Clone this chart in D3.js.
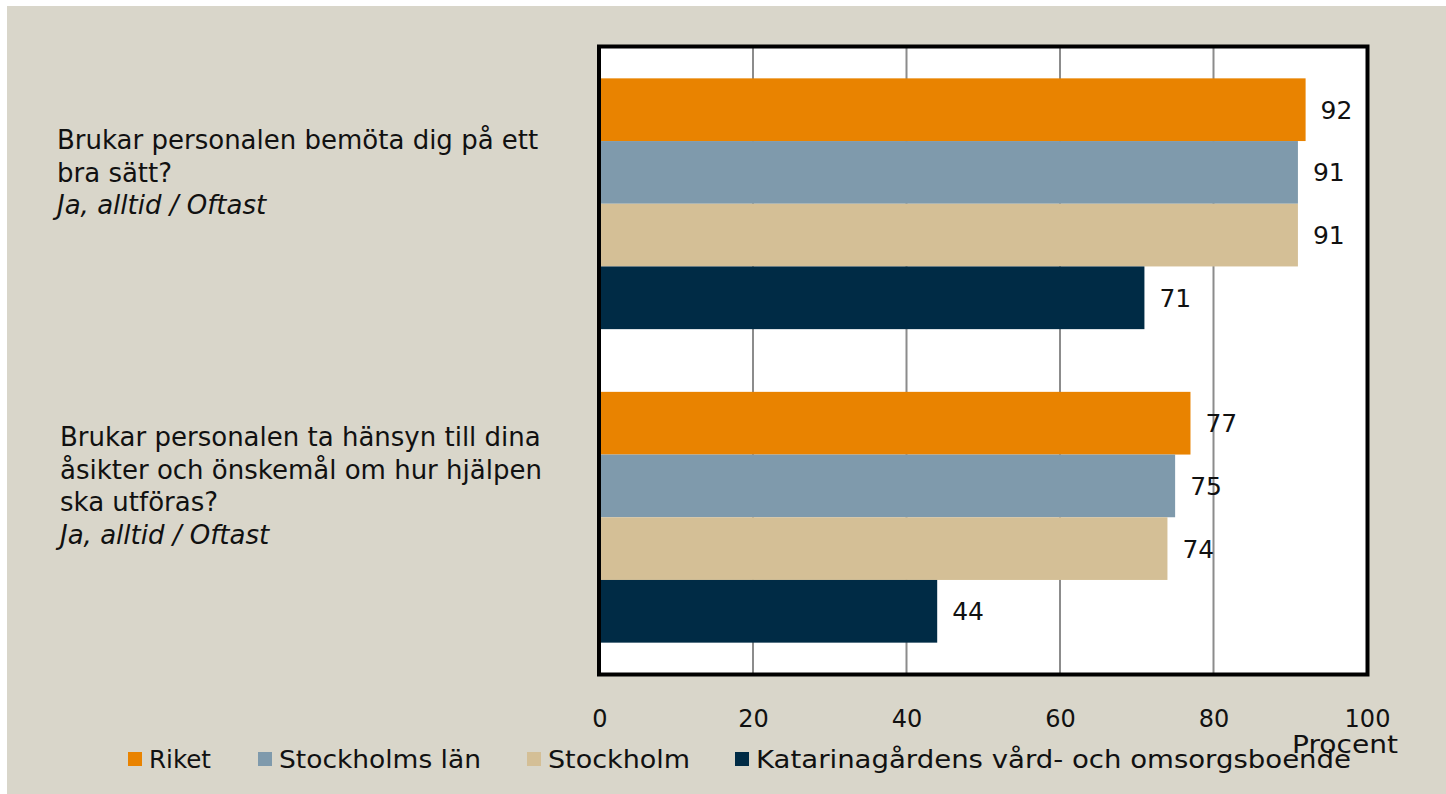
<!DOCTYPE html>
<html>
<head>
<meta charset="utf-8">
<script src="https://cdn.jsdelivr.net/npm/d3@7"></script>
<style>
  body { margin: 0; background: #fff; }
  svg { display: block; }
  text { font-family: "DejaVu Sans", sans-serif; fill: #111; }
</style>
</head>
<body>
<svg id="chart" width="1446" height="794"></svg>
<script>
// questions (category labels), one line per entry
const questions = [
    ["Brukar personalen bemöta dig på ett", "bra sätt?"],
    ["Brukar personalen ta hänsyn till dina", "åsikter och önskemål om hur hjälpen", "ska utföras?"]
];
const answerNote = "Ja, alltid / Oftast";
const seriesNames = ["Riket", "Stockholms län", "Stockholm", "Katarinagårdens vård- och omsorgsboende"];
const seriesColors = ["#e98300", "#7f9aac", "#d4bf96", "#002b45"];
// values[question][series]
const values = [
    [92, 91, 91, 71],
    [77, 75, 74, 44]
];
const xTicks = [0, 20, 40, 60, 80, 100];
const axisTitle = "Procent";

const svg = d3.select("#chart");
const W = 1446, H = 794;

// beige panel
svg.append("rect")
    .attr("x", 7).attr("y", 6)
    .attr("width", W - 7).attr("height", H - 6)
    .attr("fill", "#d9d6ca");

// plot area
const plot = {left: 599.5, right: 1367, top: 47, bottom: 674};

const x = d3.scaleLinear().domain([0, 100]).range([plot.left, plot.right]);
const y0 = d3.scaleBand().domain(d3.range(questions.length))
    .range([plot.top, plot.bottom]).paddingInner(0).paddingOuter(0);
const y1 = d3.scaleBand().domain(d3.range(seriesNames.length))
    .range([0, y0.bandwidth()]).paddingOuter(0.5).paddingInner(0);

svg.append("rect")
    .attr("x", plot.left).attr("y", plot.top)
    .attr("width", plot.right - plot.left).attr("height", plot.bottom - plot.top)
    .attr("fill", "#fff");

// gridlines
svg.append("g")
    .selectAll("line")
    .data(xTicks.slice(1, -1))
    .join("line")
    .attr("x1", (d) => x(d)).attr("x2", (d) => x(d))
    .attr("y1", plot.top).attr("y2", plot.bottom)
    .attr("stroke", "#8c8c8c")
    .attr("stroke-width", 2);

// bars
const groups = svg.append("g")
    .selectAll("g")
    .data(values)
    .join("g")
    .attr("transform", (d, i) => `translate(0,${y0(i)})`);

groups.selectAll("rect")
    .data((d) => d)
    .join("rect")
    .attr("x", x(0))
    .attr("y", (d, j) => y1(j))
    .attr("width", (d) => x(d) - x(0))
    .attr("height", y1.bandwidth())
    .attr("fill", (d, j) => seriesColors[j]);

groups.selectAll("text")
    .data((d) => d)
    .join("text")
    .attr("x", (d) => x(d) + 15)
    .attr("y", (d, j) => y1(j) + y1.bandwidth() / 2)
    .attr("dy", "0.36em")
    .attr("font-size", 25)
    .text((d) => d);

// frame
svg.append("rect")
    .attr("x", plot.left - 0.5).attr("y", plot.top - 0.5)
    .attr("width", plot.right - plot.left + 1).attr("height", plot.bottom - plot.top + 1)
    .attr("fill", "none")
    .attr("stroke", "#000")
    .attr("stroke-width", 4);

// x axis labels
const xAxis = svg.append("g")
    .attr("transform", `translate(0,${plot.bottom + 2})`)
    .call(d3.axisBottom(x).tickValues(xTicks).tickSize(0).tickPadding(34));
xAxis.select(".domain").remove();
xAxis.selectAll("text")
    .attr("font-size", 24)
    .attr("font-family", "DejaVu Sans, sans-serif")
    .attr("fill", "#111");

svg.append("text")
    .attr("x", 1398).attr("y", 753)
    .attr("text-anchor", "end")
    .attr("font-size", 25)
    .attr("textLength", 106)
    .attr("lengthAdjust", "spacingAndGlyphs")
    .text(axisTitle);

// question labels
const qLeft = [57, 60];
const qTop = [140, 437];
questions.forEach((lines, i) => {
    const t = svg.append("text")
        .attr("x", qLeft[i]).attr("y", qTop[i])
        .attr("font-size", 26);
    lines.forEach((ln, k) => {
        t.append("tspan").attr("x", qLeft[i]).attr("dy", k === 0 ? "0.36em" : 32.5).text(ln);
    });
    t.append("tspan").attr("x", qLeft[i]).attr("dy", 32.5)
        .attr("font-style", "italic").text(answerNote);
});

// legend
const legendX = [128, 258, 527, 735];
const legend = svg.append("g")
    .selectAll("g")
    .data(seriesNames)
    .join("g")
    .attr("transform", (d, i) => `translate(${legendX[i]},752)`);
legend.append("rect")
    .attr("width", 14).attr("height", 14)
    .attr("fill", (d, i) => seriesColors[i]);
legend.append("text")
    .attr("x", 21).attr("y", 7)
    .attr("dy", "0.36em")
    .attr("font-size", 24)
    .attr("textLength", (d, i) => [62, 202, 142, 595][i])
    .attr("lengthAdjust", "spacingAndGlyphs")
    .text((d) => d);
</script>
</body>
</html>
